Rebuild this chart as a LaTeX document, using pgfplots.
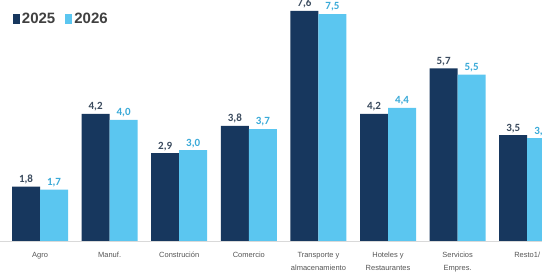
\documentclass[border=0pt]{standalone}
\usepackage{fontspec}
\setmainfont{Liberation Sans}
\newfontfamily\valfont{Carlito}
\usepackage{pgfplots}
\pgfplotsset{compat=1.18}
\definecolor{navy}{HTML}{17375E}
\definecolor{sky}{HTML}{5BC6F0}
\definecolor{navytxt}{HTML}{3B4B5E}
\definecolor{skytxt}{HTML}{3AAAD8}
\definecolor{ticktxt}{HTML}{555555}
\begin{document}
\begin{tikzpicture}
\path[use as bounding box] (0,0) rectangle (542pt,279pt);
\clip (0,0) rectangle (542pt,279pt);
\begin{scope}[overlay]
\begin{axis}[
  at={(0pt,38pt)}, anchor=south west,
  scale only axis, width=542pt, height=241pt,
  xmin=-0.575, xmax=7.212, ymin=0, ymax=7.963,
  ybar=0pt, bar width=28pt,
  axis x line=bottom, axis y line=none,
  x axis line style={draw=black!15, -},
  xtick={0,...,7}, major tick length=0pt,
  xticklabels={{\strut Agro}, {\strut Manuf.}, {\strut Construción}, {\strut Comercio}, {\strut Transporte y\\almacenamiento}, {\strut Hoteles y\\Restaurantes}, {\strut Servicios\\Empres.}, {\strut Resto1/}},
  xticklabel style={align=center, anchor=north, font=\fontsize{7.5}{13}\selectfont, text=ticktxt, yshift=-3.5pt},
  nodes near coords, nodes near coords align={vertical},
  every node near coord/.append style={font=\valfont\bfseries\fontsize{11}{12}\selectfont, yshift=-1pt},
  legend style={at={(0.018,0.965)}, anchor=north west, draw=none, fill=none,
    legend columns=-1, font=\fontsize{15}{17}\selectfont\bfseries, text=black!75,
    /tikz/every even column/.append style={column sep=8pt}},
  legend image code/.code={\fill[#1] (0pt,-5pt) rectangle (7pt,5pt);},
  /pgf/number format/.cd, use comma, fixed, fixed zerofill, precision=1, assume math mode=true,
]
\addplot[fill=navy, draw=none, every node near coord/.append style={text=navytxt}] coordinates {(0,1.8) (1,4.2) (2,2.9) (3,3.8) (4,7.6) (5,4.2) (6,5.7) (7,3.5)};
\addplot[fill=sky, draw=none, every node near coord/.append style={text=skytxt}] coordinates {(0,1.7) (1,4.0) (2,3.0) (3,3.7) (4,7.5) (5,4.4) (6,5.5) (7,3.4)};
\legend{2025, 2026}
\end{axis}
\end{scope}
\end{tikzpicture}
\end{document}
